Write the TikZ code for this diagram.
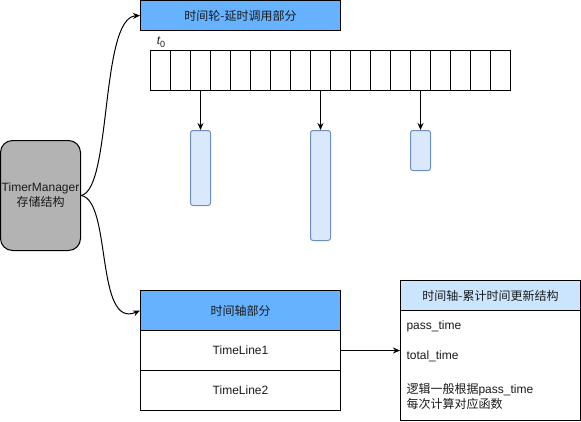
\documentclass[tikz,border=0pt]{standalone}
\usepackage{fontspec}
\setmainfont{Liberation Sans}
\newfontfamily\cjk{Noto Sans CJK SC}
\usetikzlibrary{arrows.meta}
\definecolor{hdrblue}{HTML}{66B2FF}
\definecolor{lightblue}{HTML}{CCE5FF}
\definecolor{slotfill}{HTML}{DAE8FC}
\definecolor{slotdraw}{HTML}{6C8EBF}
\definecolor{grayfill}{HTML}{B3B3B3}
\definecolor{txt}{HTML}{1A1A1A}
\begin{document}
\begin{tikzpicture}[x=1pt,y=-1pt,line width=1pt,
  every node/.style={font=\fontsize{12}{15}\selectfont,text=txt,inner sep=0pt},
  box/.style={draw,minimum width=#1,anchor=north west},
  cell/.style={draw,minimum width=20pt,minimum height=40pt,anchor=north west},
  slot/.style={draw=slotdraw,fill=slotfill,rounded corners=2.5pt,minimum width=20pt,anchor=north west},
  arr/.style={-{Stealth[length=7pt,width=6pt]}},
  lbl/.style={anchor=west,align=left}]
\useasboundingbox (0,0) rectangle (581,421);
% top header
\node[box=200pt,minimum height=30pt,fill=hdrblue] (wheel) at (140,0) {\cjk 时间轮-延时调用部分};
\node (t0) at (161,42) {{\itshape t}\raisebox{-2.5pt}{\fontsize{9}{9}\selectfont 0}};
% cells
\foreach \i in {1,...,18}{
  \node[cell] (c\i) at ({150+20*(\i-1)},50) {};
}
% slots
\node[slot,minimum height=75pt] (s1) at (190,130) {};
\node[slot,minimum height=110pt] (s2) at (310,130) {};
\node[slot,minimum height=40pt] (s3) at (410,130) {};
\draw[arr] (c3.south) -- (s1.north);
\draw[arr] (c9.south) -- (s2.north);
\draw[arr] (c14.south) -- (s3.north);
% timer manager
\node[draw,fill=grayfill,rounded corners=12pt,minimum width=80pt,minimum height=110pt,anchor=north west,align=center] (tm) at (0,140) {TimerManager\\[0pt]{\cjk 存储结构}};
% timeline table
\node[box=200pt,minimum height=40pt,fill=hdrblue] (tl) at (140,290) {\cjk 时间轴部分};
\node[box=200pt,minimum height=40pt] (tl1) at (140,330) {TimeLine1};
\node[box=200pt,minimum height=40pt] (tl2) at (140,370) {TimeLine2};
% right structure
\node[box=180pt,minimum height=30pt,fill=lightblue] (rs) at (400,280) {\cjk 时间轴-累计时间更新结构};
\node[box=180pt,minimum height=110pt] (rb) at (400,310) {};
\node[lbl] (p1) at (406,326) {pass\_time};
\node[lbl] (p2) at (406,356) {total\_time};
\node[lbl] (p3) at (406,396) {{\cjk 逻辑一般根据}pass\_time\\[0pt]{\cjk 每次计算对应函数}};
\draw[arr] (tl1.east) -- (rb.west |- tl1.east);
% curves
\draw[arr] (tm.east) .. controls (112,190) and (100,18) .. (wheel.west);
\draw[arr] (tm.east) .. controls (112,200) and (95,330) .. (tl.west);
\end{tikzpicture}
\end{document}
